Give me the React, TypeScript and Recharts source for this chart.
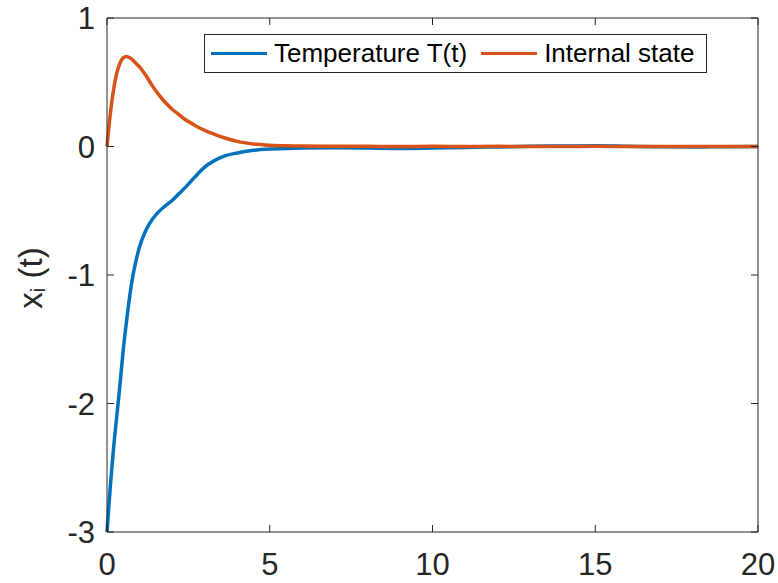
import React from 'react';
import { LineChart, Line, XAxis, YAxis, Legend } from 'recharts';

// Values
const timeValues = [
  0, 0.1, 0.2, 0.3, 0.4, 0.5, 0.6, 0.7, 0.8, 0.9, 1.0, 1.2, 1.4, 1.6, 1.8, 2.0, 2.2, 2.4, 2.6, 2.8,
  3.0, 3.3, 3.6, 4.0, 4.5, 5.0, 5.5, 6, 7, 8, 9, 10, 11, 12, 13, 14, 15, 16, 17, 18, 19, 20,
];
const temperatureValues = [
  -3, -2.65, -2.35, -2.1, -1.85, -1.58, -1.36, -1.16, -1.0, -0.88, -0.78, -0.65, -0.565, -0.505, -0.46,
  -0.42, -0.37, -0.32, -0.265, -0.21, -0.16, -0.11, -0.075, -0.05, -0.03, -0.02, -0.015, -0.012, -0.01,
  -0.012, -0.015, -0.012, -0.008, -0.003, 0.002, 0.004, 0.006, 0.002, -0.002, -0.004, -0.001, 0,
];
const internalValues = [
  0, 0.25, 0.44, 0.57, 0.65, 0.69, 0.7, 0.69, 0.67, 0.645, 0.62, 0.55, 0.47, 0.4, 0.34, 0.29, 0.25,
  0.21, 0.18, 0.15, 0.125, 0.095, 0.068, 0.04, 0.02, 0.01, 0.005, 0.003, 0.002, 0.001, 0, 0.001, 0,
  0.001, 0, 0, 0.001, 0, 0, 0, 0, 0,
];
const xTicks = [0, 5, 10, 15, 20];
const yTicks = [-3, -2, -1, 0, 1];
const legendOrder = ['Temperature T(t)', 'Internal state'];

const data = timeValues.map((t, i) => ({
  t,
  temp: temperatureValues[i],
  internal: internalValues[i],
}));

const FONT = '"Liberation Sans", Arial, Helvetica, sans-serif';
const AXIS = '#262626';

const YLabel = () => {
  const cx = 30;
  const cy = 278;
  return (
    <text
      x={cx}
      y={cy}
      transform={`rotate(-90, ${cx}, ${cy})`}
      textAnchor="middle"
      dominantBaseline="central"
      fontFamily={FONT}
      fontSize={33}
      fill={AXIS}
    >
      x
      <tspan dy={8} fontSize={20}>i</tspan>
      <tspan dy={-8}> (t)</tspan>
    </text>
  );
};

const LegendBox = (props: any) => {
  const items = (props.payload || [])
    .filter((it: any) => legendOrder.includes(it.value))
    .sort((a: any, b: any) => legendOrder.indexOf(a.value) - legendOrder.indexOf(b.value));
  return (
    <div
      style={{
        width: '100%',
        height: '100%',
        boxSizing: 'border-box',
        border: `1px solid ${AXIS}`,
        background: '#fff',
        display: 'flex',
        alignItems: 'center',
        fontFamily: FONT,
        fontSize: 26,
        color: '#000',
        paddingLeft: 6,
      }}
    >
      {items.map((it: any, i: number) => (
        <div key={i} style={{ display: 'flex', alignItems: 'center', marginLeft: i === 0 ? 0 : 14 }}>
          <span style={{ display: 'inline-block', width: 56, height: 3.5, background: it.color }} />
          <span style={{ marginLeft: 7, whiteSpace: 'nowrap' }}>{it.value}</span>
        </div>
      ))}
    </div>
  );
};

const blank = () => '';

export default function App() {
  const tickStyle = { fontSize: 31, fill: AXIS, fontFamily: FONT };
  return (
    <div style={{ position: 'absolute', left: 0, top: 0, background: '#fff' }}>
      <LineChart width={778} height={583} data={data} margin={{ top: 17, right: 19, left: 0, bottom: 0 }}>
        <XAxis
          dataKey="t"
          type="number"
          domain={[0, 20]}
          ticks={xTicks}
          height={51}
          tickSize={-7}
          tickMargin={28}
          stroke={AXIS}
          tick={tickStyle}
          interval={0}
        />
        <XAxis
          xAxisId="top"
          dataKey="t"
          orientation="top"
          type="number"
          domain={[0, 20]}
          ticks={xTicks}
          height={1}
          tickSize={-7}
          tickFormatter={blank}
          stroke={AXIS}
          interval={0}
        />
        <YAxis
          type="number"
          domain={[-3, 1]}
          ticks={yTicks}
          width={107}
          tickSize={-7}
          tickMargin={19}
          stroke={AXIS}
          tick={tickStyle}
          interval={0}
          label={<YLabel />}
        />
        <YAxis
          yAxisId="right"
          orientation="right"
          type="number"
          domain={[-3, 1]}
          ticks={yTicks}
          width={1}
          tickSize={-7}
          tickFormatter={blank}
          stroke={AXIS}
          interval={0}
        />
        <Legend
          verticalAlign="middle"
          align="center"
          layout="horizontal"
          wrapperStyle={{ left: 204, top: 34, width: 503, height: 39 }}
          content={<LegendBox />}
        />
        <Line
          type="monotone"
          dataKey="temp"
          name="Temperature T(t)"
          stroke="#0072BD"
          strokeWidth={3.5}
          dot={false}
          isAnimationActive={false}
        />
        <Line
          type="monotone"
          dataKey="internal"
          name="Internal state"
          stroke="#D95319"
          strokeWidth={3.5}
          dot={false}
          isAnimationActive={false}
        />
        <Line
          xAxisId="top"
          yAxisId="right"
          dataKey="internal"
          name="helper"
          stroke="none"
          legendType="none"
          dot={false}
          activeDot={false}
          isAnimationActive={false}
        />
      </LineChart>
    </div>
  );
}
